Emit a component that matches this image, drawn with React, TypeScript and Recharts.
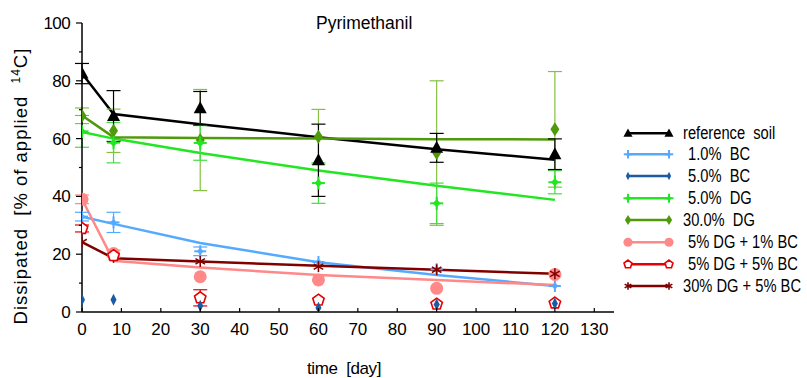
import React from 'react';
import { ComposedChart, Line, Scatter, XAxis, YAxis, ErrorBar } from 'recharts';

// sampling days
const days = [0, 8, 30, 60, 90, 120];
const xTicks = [0, 10, 20, 30, 40, 50, 60, 70, 80, 90, 100, 110, 120, 130];
const yTicks = [0, 10, 20, 30, 40, 50, 60, 70, 80, 90, 100];

// measured values (% of applied 14C) and their error bars (null = too small to see)
const refSoil = [82.5, 67.8, 70.5, 52.5, 56.8, 54.6];
const refSoilErr = [3.5, 8.8, 5.8, 12.5, 5, 5.3];
const bc1 = [33, 31, 21, 17.3, 14.8, 9];
const bc1Err = [1.5, 3.5, 1.5, null, null, null];
const bc5 = [4.2, 4.2, 2.2, 1.5, 2.6, 2.9];
const bc5Err = [null, null, null, null, null, null];
const dg5 = [62.5, 58.6, 58.5, 44.6, 37.6, 44.9];
const dg5Err = [5.5, 7, 6, 7, 7, 4];
const dg30 = [67.9, 62.7, 59.5, 60.6, 55, 63.2];
const dg30Err = [2.7, 7.5, 17.5, 9.5, 25, 20];
const dg5bc1 = [39, 20.2, 12.2, 11.1, 8.2, 13];
const dg5bc1Err = [1.5, 1.2, null, null, null, null];
const dg5bc5 = [28.9, 19.5, 4.9, 4.1, 2.7, 3.1];
const dg5bc5Err = [1.2, null, 2.8, null, null, null];
const dg30bc5 = [24.2, 18.9, 17.5, 15.7, 14.6, 13.2];
const dg30bc5Err = [null, null, null, null, null, null];

// fitted curves read at the sampling days
const refSoilFit = [82.5, 68.5, 65, 60.5, 56.3, 52.7];
const bc1Fit = [33, 30.5, 23.9, 17.2, 12.8, 9];
const dg5Fit = [62.3, 60, 55, 49, 43.7, 38.8];
const dg30Fit = [68, 60.5, 60.2, 60, 59.8, 59.7];
const dg5bc1Fit = [39, 17.7, 15.4, 12.8, 11.1, 9.3];
const dg30bc5Fit = [24.2, 18.6, 17.5, 16, 14.6, 13.2];

const FONT = "'Liberation Sans', Arial, sans-serif";

type Kind = 'triangle' | 'plus' | 'thinDiamond' | 'star' | 'diamond' | 'circle' | 'pentagon' | 'asterisk';

const series = [
  { key: 'ref', label: 'reference  soil', color: '#000000', errColor: '#000000', points: refSoil, err: refSoilErr, fit: refSoilFit, kind: 'triangle' as Kind, tx: 683 },
  { key: 'bc1', label: '1.0%  BC', color: '#55aaff', errColor: '#55aaff', points: bc1, err: bc1Err, fit: bc1Fit, kind: 'plus' as Kind, tx: 688 },
  { key: 'bc5', label: '5.0%  BC', color: '#1a5aa6', errColor: '#1a5aa6', points: bc5, err: bc5Err, fit: null, kind: 'thinDiamond' as Kind, tx: 688 },
  { key: 'dg5', label: '5.0%  DG', color: '#22e622', errColor: '#44dd44', points: dg5, err: dg5Err, fit: dg5Fit, kind: 'star' as Kind, tx: 688 },
  { key: 'dg30', label: '30.0%  DG', color: '#4f9a0a', errColor: '#86c040', points: dg30, err: dg30Err, fit: dg30Fit, kind: 'diamond' as Kind, tx: 683 },
  { key: 'dg5bc1', label: '5% DG + 1% BC', color: '#ff8888', errColor: '#ff8888', points: dg5bc1, err: dg5bc1Err, fit: dg5bc1Fit, kind: 'circle' as Kind, tx: 688 },
  { key: 'dg5bc5', label: '5% DG + 5% BC', color: '#e60000', errColor: '#e60000', points: dg5bc5, err: dg5bc5Err, fit: null, kind: 'pentagon' as Kind, tx: 688 },
  { key: 'dg30bc5', label: '30% DG + 5% BC', color: '#800000', errColor: '#800000', points: dg30bc5, err: dg30bc5Err, fit: dg30bc5Fit, kind: 'asterisk' as Kind, tx: 683 },
];

// drawing order of the markers: the dark blue diamonds sit on top of the hollow pentagons
const drawOrder = ['dg30', 'dg5', 'ref', 'bc1', 'dg5bc1', 'dg30bc5', 'dg5bc5', 'bc5'];

const fitRows = days.map((x, i) => {
  const row: Record<string, number> = { x };
  series.forEach((s) => {
    if (s.fit) row[s.key] = s.fit[i];
  });
  return row;
});

function marker(kind: Kind, cx: number, cy: number, color: string, k = 1) {
  switch (kind) {
    case 'triangle':
      return <polygon points={`${cx},${cy - 7 * k} ${cx + 6.5 * k},${cy + 5 * k} ${cx - 6.5 * k},${cy + 5 * k}`} fill={color} />;
    case 'plus':
      return (
        <g>
          <line x1={cx - 6 * k} x2={cx + 6 * k} y1={cy} y2={cy} stroke={color} strokeWidth={2} />
          <line x1={cx} x2={cx} y1={cy - 6 * k} y2={cy + 6 * k} stroke={color} strokeWidth={2} />
          <polygon points={`${cx},${cy - 3.5 * k} ${cx + 3.5 * k},${cy} ${cx},${cy + 3.5 * k} ${cx - 3.5 * k},${cy}`} fill={color} />
        </g>
      );
    case 'star':
      return (
        <g>
          <line x1={cx - 6.5 * k} x2={cx + 6.5 * k} y1={cy} y2={cy} stroke={color} strokeWidth={2} />
          <line x1={cx} x2={cx} y1={cy - 6.5 * k} y2={cy + 6.5 * k} stroke={color} strokeWidth={2} />
          <polygon points={`${cx},${cy - 4 * k} ${cx + 4 * k},${cy} ${cx},${cy + 4 * k} ${cx - 4 * k},${cy}`} fill={color} />
        </g>
      );
    case 'thinDiamond':
      return <polygon points={`${cx},${cy - 6 * k} ${cx + 3 * k},${cy} ${cx},${cy + 6 * k} ${cx - 3 * k},${cy}`} fill={color} />;
    case 'diamond':
      return <polygon points={`${cx},${cy - 7 * k} ${cx + 4.5 * k},${cy} ${cx},${cy + 7 * k} ${cx - 4.5 * k},${cy}`} fill={color} />;
    case 'circle':
      return <circle cx={cx} cy={cy} r={6.5 * k} fill={color} />;
    case 'pentagon': {
      const pts = [0, 1, 2, 3, 4]
        .map((i) => {
          const a = -Math.PI / 2 + (i * 2 * Math.PI) / 5;
          return `${cx + 6 * k * Math.cos(a)},${cy + 6 * k * Math.sin(a)}`;
        })
        .join(' ');
      return <polygon points={pts} fill="#ffffff" stroke={color} strokeWidth={1.6} />;
    }
    case 'asterisk':
      return (
        <g stroke={color} strokeWidth={1.6}>
          {[90, 30, 150].map((deg) => {
            const a = (deg * Math.PI) / 180;
            const r = 5.5 * k;
            return <line key={deg} x1={cx - r * Math.cos(a)} y1={cy - r * Math.sin(a)} x2={cx + r * Math.cos(a)} y2={cy + r * Math.sin(a)} />;
          })}
        </g>
      );
  }
  return null;
}

const XTick = (props: any) => {
  const { x, y, payload } = props;
  const axisY = y - 11;
  return (
    <g>
      <line x1={x} x2={x} y1={axisY} y2={axisY - 4} stroke="#000" strokeWidth={1.2} />
      <text x={x} y={y} dy="0.71em" textAnchor="middle" fontSize={17} fontFamily={FONT} fill="#000">
        {payload.value}
      </text>
    </g>
  );
};

const YTick = (props: any) => {
  const { x, y, payload } = props;
  const axisX = x + 12;
  const major = payload.value % 20 === 0;
  return (
    <g>
      <line x1={axisX} x2={axisX - (major ? 6 : 3)} y1={y} y2={y} stroke="#000" strokeWidth={1.2} />
      {major && (
        <text x={x} y={y} dy="0.355em" textAnchor="end" fontSize={17} fontFamily={FONT} letterSpacing={-0.6} fill="#000">
          {payload.value}
        </text>
      )}
    </g>
  );
};

const legendRows = [133.3, 154.3, 176, 198.3, 220, 242.3, 264.3, 286];

export default function App() {
  const ordered = drawOrder.map((k) => series.find((s) => s.key === k)!);
  return (
    <div style={{ position: 'absolute', left: 0, top: 0, width: 807, height: 378, background: '#fff' }}>
      <ComposedChart width={807} height={378} data={fitRows} margin={{ top: 23, right: 193, left: 0, bottom: 0 }}>
        <XAxis
          type="number"
          dataKey="x"
          domain={[0, 135]}
          ticks={xTicks}
          allowDataOverflow
          height={66}
          tickLine={false}
          tickSize={0}
          tickMargin={11}
          tick={<XTick />}
          axisLine={{ stroke: '#000', strokeWidth: 1.5 }}
          interval={0}
        />
        <YAxis
          type="number"
          domain={[0, 100]}
          ticks={yTicks}
          allowDataOverflow
          width={82}
          tickLine={false}
          tickSize={0}
          tickMargin={12}
          tick={<YTick />}
          axisLine={{ stroke: '#000', strokeWidth: 1.5 }}
          interval={0}
        />
        {series
          .filter((s) => s.fit)
          .map((s) => (
            <Line
              key={`fit-${s.key}`}
              dataKey={s.key}
              type="linear"
              stroke={s.color}
              strokeWidth={2.5}
              dot={false}
              activeDot={false}
              isAnimationActive={false}
              legendType="none"
            />
          ))}
        {ordered.map((s) => (
          <Scatter
            key={`pts-${s.key}`}
            data={days.map((x, i) => ({ x, y: s.points[i], err: s.err[i] }))}
            dataKey="y"
            isAnimationActive={false}
            shape={(p: any) => marker(s.kind, p.cx, p.cy, s.color)}
          >
            {s.err.some((e) => e != null) && (
              <ErrorBar dataKey="err" direction="y" width={7} stroke={s.errColor} strokeWidth={1.2} />
            )}
          </Scatter>
        ))}
      </ComposedChart>
      <svg width={807} height={378} style={{ position: 'absolute', left: 0, top: 0, pointerEvents: 'none' }}>
        <text x={316} y={29} fontSize={17.5} fontFamily={FONT} fill="#000">
          Pyrimethanil
        </text>
        <text x={344} y={374} textAnchor="middle" fontSize={17} fontFamily={FONT} letterSpacing={-0.4} fill="#000" style={{ whiteSpace: 'pre' }}>
          {'time  [day]'}
        </text>
        <text
          transform="translate(27,186) rotate(-90)"
          textAnchor="middle"
          fontSize={18.5}
          fontFamily={FONT}
          letterSpacing={1}
          fill="#000"
          style={{ whiteSpace: 'pre' }}
        >
          {'Dissipated  [% of applied  '}
          <tspan dy={-7} fontSize={12}>14</tspan>
          <tspan dy={7}>C]</tspan>
        </text>
        {series.map((s, i) => {
          const y = legendRows[i];
          return (
            <g key={`leg-${s.key}`}>
              <line x1={627} x2={670} y1={y} y2={y} stroke={s.color} strokeWidth={2.5} />
              {marker(s.kind, 628, y, s.color, 0.7)}
              {marker(s.kind, 669, y, s.color, 0.7)}
              <text
                transform={`translate(${s.tx},${y + 6}) scale(0.84,1)`}
                fontSize={17.5}
                fontFamily={FONT}
                fill="#000"
                style={{ whiteSpace: 'pre' }}
              >
                {s.label}
              </text>
            </g>
          );
        })}
      </svg>
    </div>
  );
}
